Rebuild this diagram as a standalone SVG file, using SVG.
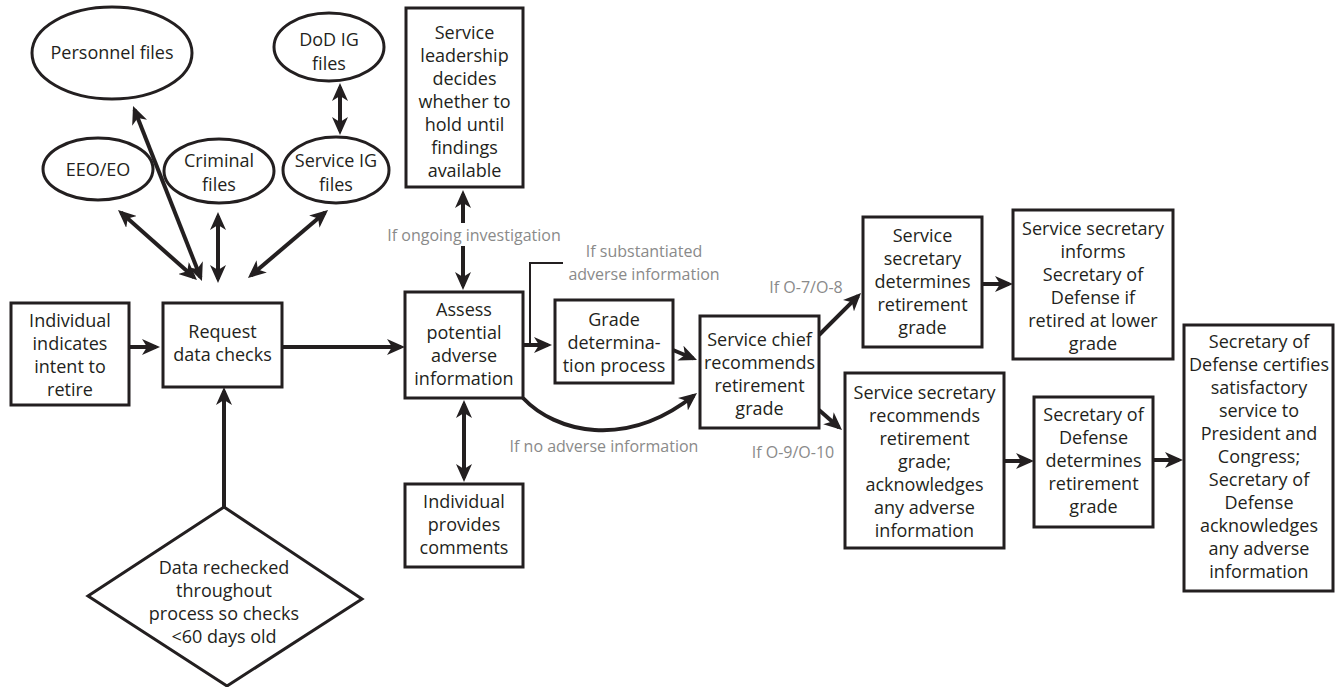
<svg xmlns="http://www.w3.org/2000/svg" width="1336" height="687" viewBox="0 0 1336 687">
<style>
.box{fill:#fff;stroke:#231f20;stroke-width:3}
.t{font-family:"Open Sans","Noto Sans","DejaVu Sans",sans-serif;font-size:18px;fill:#231f20;text-anchor:middle}
.g{font-family:"Open Sans","Noto Sans","DejaVu Sans",sans-serif;font-size:16px;fill:#8a8a8a;text-anchor:middle}
.c{fill:none;stroke:#231f20;stroke-width:4}
.e{marker-end:url(#ah)}
.d{marker-start:url(#ah);marker-end:url(#ah)}
.br{fill:none;stroke:#231f20;stroke-width:2}
</style>
<defs>
<marker id="ah" viewBox="0 0 18 16" refX="14" refY="8" markerWidth="18" markerHeight="16" markerUnits="userSpaceOnUse" orient="auto-start-reverse">
<path d="M0,0 L18,8 L0,16 L5,8 Z" fill="#231f20"/>
</marker>
</defs>
<rect width="1336" height="687" fill="#fff"/>

<g id="connectors">
<path class="c e" d="M129,347 H156"/>
<path class="c e" d="M282,347 H401"/>
<path class="c e" d="M224,507 V391"/>
<path class="c d" d="M121,212.6 L194,277.3"/>
<path class="c d" d="M134.5,109.7 L200.5,277.3"/>
<path class="c d" d="M218,216 V279"/>
<path class="c d" d="M325,212.6 L251,275.4"/>
<path class="c d" d="M340,87 V131"/>
<path class="c" style="marker-start:url(#ah)" d="M463,194 V223"/>
<path class="c e" d="M463,246 V286"/>
<path class="c d" d="M464,404 V478"/>
<path class="c e" d="M523,345 H548"/>
<path class="br" d="M563,263 H530 V345"/>
<path class="c e" d="M673,350 L693.3,358.5"/>
<path class="c e" d="M523,398 C555,432 625,450 693.9,395.5"/>
<path class="c e" d="M819,335 L858.2,295.8"/>
<path class="c e" d="M819,410 L839,427.4"/>
<path class="c e" d="M982,284 H1009"/>
<path class="c e" d="M1004,461 H1030"/>
<path class="c e" d="M1153,460 H1179"/>
</g>

<g id="labels">
<text class="g" x="474" y="241">If ongoing investigation</text>
<text class="g" x="644" y="257">If substantiated</text>
<text class="g" x="644" y="280">adverse information</text>
<text class="g" x="604" y="452">If no adverse information</text>
<text class="g" x="806" y="293">If O-7/O-8</text>
<text class="g" x="793" y="458">If O-9/O-10</text>
</g>

<g id="personnel">
<ellipse class="box" cx="112" cy="53" rx="80" ry="46"/>
<text class="t" x="112" y="59">Personnel files</text>
</g>
<g id="eeo">
<ellipse class="box" cx="98" cy="169" rx="55" ry="31"/>
<text class="t" x="98" y="176">EEO/EO</text>
</g>
<g id="criminal">
<ellipse class="box" cx="219" cy="171" rx="55" ry="32"/>
<text class="t" x="219" y="167">Criminal</text>
<text class="t" x="219" y="191">files</text>
</g>
<g id="serviceig">
<ellipse class="box" cx="336" cy="170" rx="53" ry="33"/>
<text class="t" x="336" y="167">Service IG</text>
<text class="t" x="336" y="191">files</text>
</g>
<g id="dodig">
<ellipse class="box" cx="329" cy="47" rx="55" ry="34"/>
<text class="t" x="329" y="46">DoD IG</text>
<text class="t" x="329" y="70">files</text>
</g>

<g id="leadership">
<rect class="box" x="406" y="8" width="117" height="179"/>
<text class="t" x="464.5" y="39">Service</text>
<text class="t" x="464.5" y="62">leadership</text>
<text class="t" x="464.5" y="85">decides</text>
<text class="t" x="464.5" y="108">whether to</text>
<text class="t" x="464.5" y="131">hold until</text>
<text class="t" x="464.5" y="154">findings</text>
<text class="t" x="464.5" y="177">available</text>
</g>

<g id="individual">
<rect class="box" x="11" y="303" width="118" height="102"/>
<text class="t" x="70" y="327">Individual</text>
<text class="t" x="70" y="350">indicates</text>
<text class="t" x="70" y="373">intent to</text>
<text class="t" x="70" y="396">retire</text>
</g>

<g id="request">
<rect class="box" x="163" y="303" width="119" height="84"/>
<text class="t" x="222.5" y="338">Request</text>
<text class="t" x="222.5" y="361">data checks</text>
</g>

<g id="recheck">
<path class="box" d="M224,507 L362,599 L227,686 L88,596 Z"/>
<text class="t" x="224" y="574">Data rechecked</text>
<text class="t" x="224" y="597">throughout</text>
<text class="t" x="224" y="620">process so checks</text>
<text class="t" x="224" y="643">&lt;60 days old</text>
</g>

<g id="assess">
<rect class="box" x="405" y="292" width="118" height="106"/>
<text class="t" x="464" y="316">Assess</text>
<text class="t" x="464" y="339">potential</text>
<text class="t" x="464" y="362">adverse</text>
<text class="t" x="464" y="385">information</text>
</g>

<g id="comments">
<rect class="box" x="405" y="484" width="118" height="83"/>
<text class="t" x="464" y="508">Individual</text>
<text class="t" x="464" y="531">provides</text>
<text class="t" x="464" y="554">comments</text>
</g>

<g id="grade">
<rect class="box" x="555" y="300" width="118" height="83"/>
<text class="t" x="614" y="326">Grade</text>
<text class="t" x="614" y="349">determina-</text>
<text class="t" x="614" y="372">tion process</text>
</g>

<g id="chief">
<rect class="box" x="700" y="316" width="119" height="112"/>
<text class="t" x="759.5" y="346">Service chief</text>
<text class="t" x="759.5" y="369">recommends</text>
<text class="t" x="759.5" y="392">retirement</text>
<text class="t" x="759.5" y="415">grade</text>
</g>

<g id="ssdetermines">
<rect class="box" x="863" y="217" width="119" height="130"/>
<text class="t" x="922.5" y="242">Service</text>
<text class="t" x="922.5" y="265">secretary</text>
<text class="t" x="922.5" y="288">determines</text>
<text class="t" x="922.5" y="311">retirement</text>
<text class="t" x="922.5" y="334">grade</text>
</g>

<g id="ssinforms">
<rect class="box" x="1013" y="210" width="160" height="149"/>
<text class="t" x="1093" y="235">Service secretary</text>
<text class="t" x="1093" y="258">informs</text>
<text class="t" x="1093" y="281">Secretary of</text>
<text class="t" x="1093" y="304">Defense if</text>
<text class="t" x="1093" y="327">retired at lower</text>
<text class="t" x="1093" y="350">grade</text>
</g>

<g id="ssrecommends">
<rect class="box" x="845" y="373" width="159" height="175"/>
<text class="t" x="924.5" y="399">Service secretary</text>
<text class="t" x="924.5" y="422">recommends</text>
<text class="t" x="924.5" y="445">retirement</text>
<text class="t" x="924.5" y="468">grade;</text>
<text class="t" x="924.5" y="491">acknowledges</text>
<text class="t" x="924.5" y="514">any adverse</text>
<text class="t" x="924.5" y="537">information</text>
</g>

<g id="secdefdetermines">
<rect class="box" x="1034" y="397" width="119" height="130"/>
<text class="t" x="1093.5" y="421">Secretary of</text>
<text class="t" x="1093.5" y="444">Defense</text>
<text class="t" x="1093.5" y="467">determines</text>
<text class="t" x="1093.5" y="490">retirement</text>
<text class="t" x="1093.5" y="513">grade</text>
</g>

<g id="secdefcertifies">
<rect class="box" x="1184" y="325" width="149" height="266"/>
<text class="t" x="1259" y="348">Secretary of</text>
<text class="t" x="1259" y="371">Defense certifies</text>
<text class="t" x="1259" y="394">satisfactory</text>
<text class="t" x="1259" y="417">service to</text>
<text class="t" x="1259" y="440">President and</text>
<text class="t" x="1259" y="463">Congress;</text>
<text class="t" x="1259" y="486">Secretary of</text>
<text class="t" x="1259" y="509">Defense</text>
<text class="t" x="1259" y="532">acknowledges</text>
<text class="t" x="1259" y="555">any adverse</text>
<text class="t" x="1259" y="578">information</text>
</g>
</svg>
